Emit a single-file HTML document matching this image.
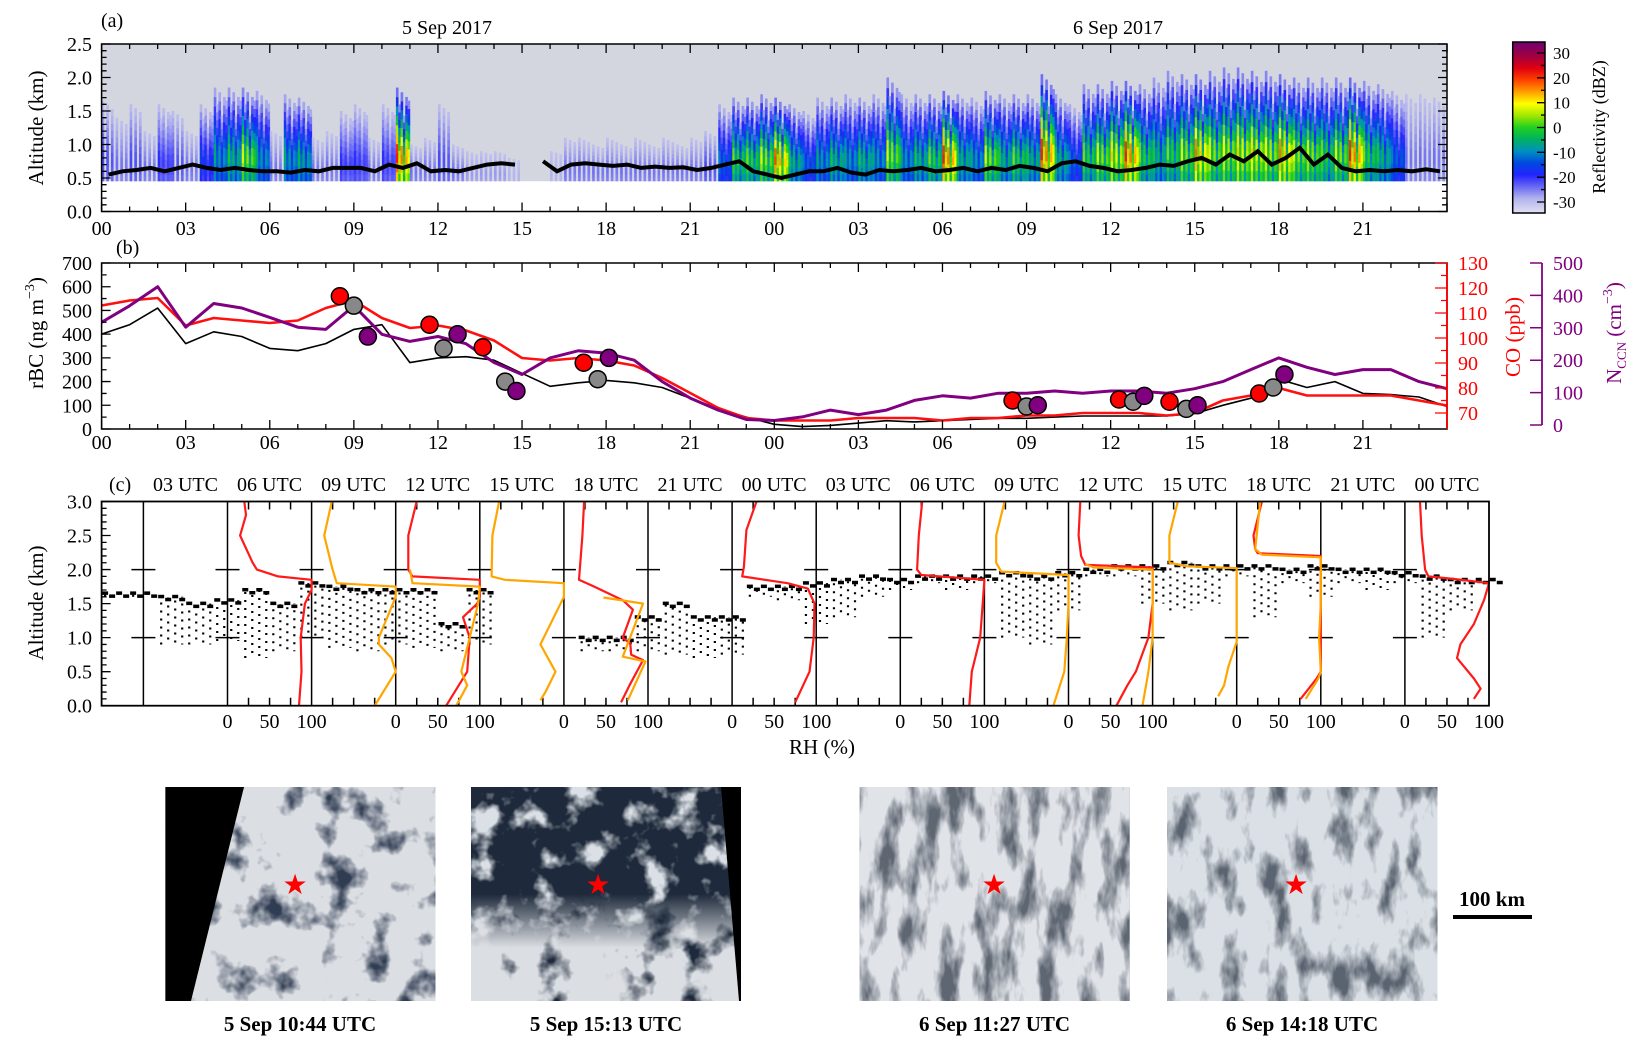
<!DOCTYPE html>
<html><head><meta charset="utf-8">
<style>
body{margin:0;background:#fff;}
svg text{font-family:"Liberation Serif","DejaVu Serif",serif;fill:#000;}
</style></head>
<body>
<svg id="fig" width="1642" height="1052" viewBox="0 0 1642 1052" xmlns="http://www.w3.org/2000/svg">
<defs>
  <filter id="fCloudA" color-interpolation-filters="sRGB" x="0" y="0" width="1" height="1">
    <feTurbulence type="fractalNoise" baseFrequency="0.028" numOctaves="4" seed="3" result="n"/>
    <feColorMatrix in="n" type="matrix" values="0 0 0 0 0.86  0 0 0 0 0.87  0 0 0 0 0.89  4.2 0 0 0 -0.95" result="c"/>
    <feComposite in="c" in2="SourceGraphic" operator="in"/>
  </filter>
  <filter id="fCloudB" color-interpolation-filters="sRGB" x="0" y="0" width="1" height="1">
    <feTurbulence type="fractalNoise" baseFrequency="0.03" numOctaves="4" seed="8" result="n"/>
    <feColorMatrix in="n" type="matrix" values="0 0 0 0 0.86  0 0 0 0 0.88  0 0 0 0 0.9  5 0 0 0 -2.6" result="c"/>
    <feComposite in="c" in2="SourceGraphic" operator="in"/>
  </filter>
  <filter id="fCloudC" color-interpolation-filters="sRGB" x="0" y="0" width="1" height="1">
    <feTurbulence type="fractalNoise" baseFrequency="0.05 0.018" numOctaves="4" seed="5" result="n"/>
    <feColorMatrix in="n" type="matrix" values="0 0 0 0 0.88  0 0 0 0 0.89  0 0 0 0 0.91  3.5 0 0 0 -0.9" result="c"/>
    <feComposite in="c" in2="SourceGraphic" operator="in"/>
  </filter>
  <filter id="fCloudD" color-interpolation-filters="sRGB" x="0" y="0" width="1" height="1">
    <feTurbulence type="fractalNoise" baseFrequency="0.045 0.02" numOctaves="4" seed="11" result="n"/>
    <feColorMatrix in="n" type="matrix" values="0 0 0 0 0.86  0 0 0 0 0.88  0 0 0 0 0.9  3.5 0 0 0 -0.8" result="c"/>
    <feComposite in="c" in2="SourceGraphic" operator="in"/>
  </filter>
  <linearGradient id="gBottom" x1="0" y1="0" x2="0" y2="1">
    <stop offset="0" stop-color="#fff" stop-opacity="0"/>
    <stop offset="0.5" stop-color="#fff" stop-opacity="0"/>
    <stop offset="0.75" stop-color="#fff" stop-opacity="1"/>
  </linearGradient>
  <mask id="mBottom" maskUnits="userSpaceOnUse" x="471" y="787" width="270" height="214">
    <rect x="471" y="787" width="270" height="214" fill="url(#gBottom)"/>
  </mask>
  <linearGradient id="cbarGrad" x1="0" y1="1" x2="0" y2="0"></linearGradient>
</defs>

<g>
  <rect x="165.4" y="787" width="270.1" height="214" fill="#2f3c52"/>
  <rect x="165.4" y="787" width="270.1" height="214" fill="#fff" filter="url(#fCloudA)"/>
  <polygon points="165.4,787 244,787 191,1001 165.4,1001" fill="#000"/>
  <text x="295" y="894" font-size="28" text-anchor="middle" style="fill:#f00">★</text>
</g>
<g>
  <rect x="471" y="787" width="270" height="214" fill="#1e2a3b"/>
  <rect x="471" y="787" width="270" height="214" fill="#fff" filter="url(#fCloudB)"/>
  <g mask="url(#mBottom)">
    <rect x="471" y="787" width="270" height="214" fill="#fff" filter="url(#fCloudA)"/>
  </g>
  <polygon points="721,787 741,787 741,1001 739,1001" fill="#000"/>
  <text x="598" y="894" font-size="28" text-anchor="middle" style="fill:#f00">★</text>
</g>
<g>
  <rect x="859.6" y="787" width="270.1" height="214" fill="#5e6672"/>
  <rect x="859.6" y="787" width="270.1" height="214" fill="#fff" filter="url(#fCloudC)"/>
  <text x="994" y="894" font-size="28" text-anchor="middle" style="fill:#f00">★</text>
</g>
<g>
  <rect x="1167" y="787" width="270.5" height="214" fill="#5a6370"/>
  <rect x="1167" y="787" width="270.5" height="214" fill="#fff" filter="url(#fCloudD)"/>
  <text x="1296" y="894" font-size="28" text-anchor="middle" style="fill:#f00">★</text>
</g>
<text x="300" y="1031" font-size="21" font-weight="bold" text-anchor="middle">5 Sep 10:44 UTC</text>
<text x="606" y="1031" font-size="21" font-weight="bold" text-anchor="middle">5 Sep 15:13 UTC</text>
<text x="994.5" y="1031" font-size="21" font-weight="bold" text-anchor="middle">6 Sep 11:27 UTC</text>
<text x="1302" y="1031" font-size="21" font-weight="bold" text-anchor="middle">6 Sep 14:18 UTC</text>
<text x="1492" y="906" font-size="21" font-weight="bold" text-anchor="middle">100 km</text>
<rect x="1453" y="915" width="79" height="4" fill="#000"/>
</svg>

<script>
const radarTop = [1.65,1.4,1.6,1.2,1.6,1.5,1.2,1.6,1.85,1.85,1.85,1.8,1.2,1.75,1.7,1.1,1.2,1.5,1.6,1.1,1.6,1.85,1.0,1.1,
  1.6,1.0,0.9,0.9,0.9,0.8,0,0,0.9,1.1,1.1,1.0,1.1,1.0,1.1,1.0,1.1,1.0,1.1,1.2,1.6,1.7,1.7,1.75,
  1.7,1.6,1.5,1.7,1.7,1.75,1.7,1.75,2.0,1.75,1.75,1.75,1.8,1.75,1.7,1.8,1.75,1.75,1.75,2.05,1.75,1.6,1.9,1.9,
  1.95,1.95,1.9,2.0,2.1,2.05,2.05,2.1,2.15,2.15,2.1,2.1,2.05,2.0,2.0,2.0,2.0,2.0,1.95,1.9,1.8,1.75,1.75,1.7];
const radarMax = [-22,-25,-22,-25,-20,-22,-25,-15,-5,0,10,-5,-25,-5,-3,-25,-25,-20,-20,-25,-20,25,-25,-25,
  -22,-25,-28,-28,-28,-30,-40,-40,-30,-25,-25,-25,-25,-25,-25,-25,-25,-25,-25,-22,-10,5,5,10,
  22,0,-10,-5,0,-5,0,-5,10,-5,0,5,25,0,-5,10,0,5,0,25,0,-10,5,10,
  15,25,5,0,5,10,20,10,12,15,15,12,20,10,10,5,10,25,5,0,-10,-25,-25,-25];
const cloudBase = [0.55,0.6,0.62,0.65,0.6,0.65,0.7,0.65,0.62,0.65,0.62,0.6,0.6,0.58,0.62,0.6,0.65,0.65,0.65,0.6,0.7,0.65,0.72,0.6,
  0.62,0.6,0.65,0.7,0.72,0.7,0,0.75,0.6,0.7,0.72,0.7,0.68,0.7,0.65,0.67,0.65,0.66,0.62,0.65,0.7,0.75,0.6,0.55,
  0.5,0.55,0.6,0.6,0.65,0.58,0.55,0.62,0.6,0.62,0.65,0.6,0.62,0.65,0.6,0.65,0.62,0.68,0.65,0.6,0.72,0.75,0.68,0.65,
  0.6,0.62,0.65,0.7,0.68,0.75,0.8,0.7,0.85,0.75,0.9,0.7,0.8,0.95,0.7,0.85,0.65,0.6,0.62,0.6,0.62,0.6,0.63,0.6];
const cbarTicks = [-30,-20,-10,0,10,20,30];
const altTicksA = [0.0,0.5,1.0,1.5,2.0,2.5];
const hourLabels = ['00','03','06','09','12','15','18','21','00','03','06','09','12','15','18','21'];

const rbc = [400,440,510,360,410,390,340,330,360,420,440,280,300,305,290,235,180,195,205,195,175,130,85,50,20,10,15,25,35,30,35,40,45,45,50,55,55,55,55,65,100,130,210,175,200,150,145,135,95];
const co = [113,115,116,105,108,107,106,107,112,115,108,104,105,103,99,92,91,92,91,89,84,78,72,68,67,67,67,68,68,68,67,68,68,69,69,70,70,70,69,70,75,77,80,77,77,77,77,75,73];
const nccn = [317,368,427,302,375,361,332,302,295,368,280,258,273,251,193,156,207,229,222,200,134,83,46,17,14,25,46,32,46,76,90,83,98,98,105,98,105,105,98,112,134,171,207,178,156,171,171,134,112];
const coMarkHour = [8.5,11.7,13.6,17.2,32.5,36.3,38.1,41.3];
const coMarkVal = [116.7,105.3,96.3,90.1,75,75.4,74.5,77.8];
const rbcMarkHour = [9.0,12.2,14.4,17.7,33.0,36.8,38.7,41.8];
const rbcMarkVal = [520,340,200,210,95,115,85,175];
const nMarkHour = [9.5,12.7,14.8,18.1,33.4,37.2,39.1,42.2];
const nMarkVal = [273,280,105,207,61,90,61,156];
const rbcTicks = [0,100,200,300,400,500,600,700];
const coTicks = [70,80,90,100,110,120,130];
const nTicks = [0,100,200,300,400,500];

const utcLabels = ['03','06','09','12','15','18','21','00','03','06','09','12','15','18','21','00'];
const cbHi = [1.65,1.65,1.6,1.5,1.55,1.7,1.5,1.8,1.75,1.7,1.7,1.7,1.2,1.7,0,0,0,1.0,1.0,1.3,1.5,1.3,1.3,1.75,1.75,1.8,1.85,1.9,1.85,1.9,1.9,1.9,1.95,1.9,1.95,2.0,2.05,2.05,2.1,2.05,2.05,2.05,2.0,2.05,2.0,2.0,1.95,1.9,1.85,1.85];
const cbLo = [1.6,1.6,0.9,0.9,0.95,0.7,0.8,1.0,0.85,0.8,0.9,0.85,0.8,0.9,0,0,0,0.8,0.8,0.8,0.75,0.7,0.75,1.6,1.55,1.2,1.3,1.6,1.7,1.8,1.7,1.8,1.0,0.9,1.4,1.9,1.9,1.5,1.4,1.5,1.9,1.3,1.8,1.6,1.8,1.7,1.8,1.0,1.4,1.8];
const profLine = [1,2,3,3,4,5,5,7,9,10,11,11,12,13,13,15];
const profColor = ['red','orange','red','orange','orange','red','orange','red','red','orange','red','orange','orange','red','orange','red'];
const profPts = [
 [[0,85],[0.5,88],[1.0,87],[1.5,92],[1.7,100],[1.85,100],[1.9,60],[2.0,35],[2.1,30],[2.5,15],[2.8,22],[3.0,20]],
 [[0,75],[0.5,100],[0.7,95],[0.9,80],[1.0,80],[1.6,100],[1.75,100],[1.8,30],[2.0,25],[2.5,15],[3.0,24]],
 [[0,60],[0.5,85],[1.0,88],[1.3,80],[1.5,97],[1.6,100],[1.85,100],[1.9,20],[2.0,15],[2.5,15],[3.0,25]],
 [[0,72],[0.3,85],[0.5,78],[1.0,88],[1.5,98],[1.75,100],[1.8,20],[2.0,17]],
 [[0.08,72],[0.2,78],[0.5,90],[0.9,72],[1.6,100],[1.8,100],[1.85,30],[1.9,14],[2.5,15],[3.0,23]],
 [[0.05,68],[0.3,78],[0.67,94],[0.75,80],[0.91,79],[1.0,70],[1.41,82],[1.55,70],[1.75,36],[1.85,18],[2.5,22],[3.0,24]],
 [[0.08,76],[0.65,97],[0.72,70],[1.5,94],[1.59,47]],
 [[0.05,75],[0.5,92],[1.0,97],[1.5,98],[1.72,90],[1.8,66],[1.9,12],[2.04,14],[2.58,17],[3.0,29]],
 [[0,82],[0.5,85],[1.0,95],[1.5,98],[1.85,100],[1.92,25],[2.0,20],[2.5,22],[3.0,26]],
 [[0,82],[0.5,95],[1.0,98],[1.5,100],[1.92,100],[1.97,20],[2.1,14],[2.5,14],[3.0,24]],
 [[0,57],[0.3,70],[0.5,80],[1.0,95],[1.5,100],[2.03,100],[2.07,20],[2.2,15],[2.5,12],[3.0,14]],
 [[0,88],[0.5,95],[1.0,100],[1.5,100],[2.0,100],[2.03,30],[2.08,20]],
 [[0.14,78],[0.3,85],[0.57,90],[0.94,100],[2.02,100],[2.05,40],[2.1,20],[2.5,20],[3.0,30]],
 [[0.1,76],[0.4,95],[0.5,100],[1.0,100],[1.5,100],[2.2,100],[2.24,25],[2.3,22],[2.5,20],[3.0,30]],
 [[0.1,82],[0.4,97],[0.5,100],[1.0,98],[1.5,100],[2.18,100],[2.22,30],[2.3,22],[3.0,28]],
 [[0.1,82],[0.25,90],[0.4,82],[0.7,62],[0.9,66],[1.2,82],[1.55,94],[1.8,100],[1.86,60],[1.9,28],[2.0,24],[2.5,20],[3.0,18]]
];
const altTicksC = [0.0,0.5,1.0,1.5,2.0,2.5,3.0];

const NS='http://www.w3.org/2000/svg';
const svg=document.getElementById('fig');
function mk(tag,attrs,parent){const e=document.createElementNS(NS,tag);for(const k in attrs)e.setAttribute(k,attrs[k]);(parent||svg).appendChild(e);return e;}
function tx(s,x,y,size,anchor,parent,extra){const e=mk('text',Object.assign({x:x,y:y,'font-size':size,'text-anchor':anchor},extra||{}),parent);e.textContent=s;return e;}
function grp(name){const g=mk('g',{});return g;}

const CMAP=[[-36,'#e0e0f2'],[-30,'#b4b4ee'],[-25,'#6a6af5'],[-20,'#2424ff'],[-15,'#0048e0'],[-10,'#0090c0'],[-5,'#00b060'],[0,'#20d020'],[5,'#a0e800'],[10,'#ffff00'],[15,'#ffa000'],[20,'#ff4000'],[25,'#e00010'],[30,'#a00040'],[36,'#700070']];
function hex(c){return [parseInt(c.slice(1,3),16),parseInt(c.slice(3,5),16),parseInt(c.slice(5,7),16)];}
function cmap(d){if(d<=CMAP[0][0])return CMAP[0][1];for(let i=1;i<CMAP.length;i++){if(d<=CMAP[i][0]){const a=CMAP[i-1],b=CMAP[i];const t=(d-a[0])/(b[0]-a[0]);const ca=hex(a[1]),cb=hex(b[1]);return 'rgb('+ca.map((v,k)=>Math.round(v+(cb[k]-v)*t)).join(',')+')';}}return CMAP[CMAP.length-1][1];}

// panel (a)
const A={l:101.6,r:1447,t:44,b:211.5};
const xA=h=>A.l+h*(A.r-A.l)/48;
const yA=k=>A.b-k*(A.b-A.t)/2.5;
const gA=grp('panel-a-radar');
const bgA=mk('rect',{x:A.l,y:yA(2.5),width:A.r-A.l,height:yA(0.45)-yA(2.5),fill:'#d3d6df'},gA);


const subH=[1,0.82,0.95,0.7,0.9,0.86], subI=[1,0.7,0.9,0.6,0.85,0.75];
const colW=(xA(0.5)-xA(0))/6;
radarTop.forEach((top,j)=>{
  if(top<=0.45||radarMax[j]<-35)return;
  for(let s=0;s<6;s++){
    if(radarMax[j]<=-22 && (s%2===1))continue;
    const t=0.45+(top-0.45)*subH[s];
    const m=-30+(radarMax[j]+30)*subI[s];
    for(let g=0;g<10;g++){
      const a0=0.45+(t-0.45)*g/10,a1=0.45+(t-0.45)*(g+1)/10;
      const f=(g+0.5)/10;
      const prof=f<0.3?0.75+f*0.833:1-(f-0.3)/0.7*0.95;
      const d=-32+(m+32)*prof;
      const c=mk('rect',{x:(xA(j*0.5)+s*colW).toFixed(2),y:yA(a1).toFixed(2),width:(colW+0.3).toFixed(2),height:(yA(a0)-yA(a1)+0.3).toFixed(2),fill:cmap(d)},gA);
      
      
    }
  }
});
let dBase='';let pen=false;
cloudBase.forEach((v,j)=>{if(v<=0){pen=false;return;}const x=xA(j*0.5+0.25),y=yA(v);dBase+=(pen?'L':'M')+x.toFixed(1)+' '+y.toFixed(1);pen=true;});
const baseLine=mk('path',{d:dBase,fill:'none',stroke:'#000','stroke-width':4},gA);


const whiteA=mk('rect',{x:A.l,y:yA(0.45),width:A.r-A.l,height:A.b-yA(0.45),fill:'#fff'},gA);



function frameTicks(P,nameP){
  let d='';
  for(let h=0;h<=48;h++){const x=xA(h);const L=(h%3===0)?9:5;d+='M'+x+' '+P.b+'v-'+L+'M'+x+' '+P.t+'v'+L;}
  const fr=mk('rect',{x:P.l,y:P.t,width:P.r-P.l,height:P.b-P.t,fill:'none',stroke:'#000','stroke-width':1.5});
  
  
  const tk=mk('path',{d:d,stroke:'#000','stroke-width':1.3,fill:'none'});
  
  
}
frameTicks(A,'panel-a');
let dya='';
for(let k=0;k<=25;k++){const v=k*0.1,y=yA(v);const L=(k%5===0)?9:5;dya+='M'+A.l+' '+y+'h'+L+'M'+A.r+' '+y+'h-'+L;}
const yaT=mk('path',{d:dya,stroke:'#000','stroke-width':1.3});


altTicksA.forEach(v=>{const t=tx(v.toFixed(1),92,yA(v)+7,20,'end');});
hourLabels.forEach((s,i)=>{const t=tx(s,xA(i*3),235,20,'middle');});
const yaTitle=tx('Altitude (km)',0,0,21,'middle',null,{transform:'translate(43,128) rotate(-90)'});


const lblA=tx('(a)',101,27,20,'start');


const d1=tx('5 Sep 2017',447,34,20,'middle');


const d2=tx('6 Sep 2017',1118,34,20,'middle');



const CB={l:1512.7,r:1545,t:42,b:213};
const yCB=d=>127.5-d*(202-53)/60;
const grad=document.getElementById('cbarGrad');
CMAP.forEach(s=>{const st=document.createElementNS(NS,'stop');st.setAttribute('offset',((s[0]+36)/72).toFixed(3));st.setAttribute('stop-color',s[1]);grad.appendChild(st);});
const cbar=mk('rect',{x:CB.l,y:CB.t,width:CB.r-CB.l,height:CB.b-CB.t,fill:'url(#cbarGrad)',stroke:'#000','stroke-width':1.5});


let dcb='';
for(let d=-30;d<=30;d+=5){dcb+='M'+CB.r+' '+yCB(d)+'h-'+(d%10===0?8:4);}
const cbT=mk('path',{d:dcb,stroke:'#000','stroke-width':1.3});


cbarTicks.forEach(d=>{const t=tx(String(d),1553,yCB(d)+6,17,'start');});
const cbTitle=tx('Reflectivity (dBZ)',0,0,18,'middle',null,{transform:'translate(1605,127) rotate(-90)'});



// panel (b)
const B={l:101.6,r:1447,t:263,b:429};
const yB=v=>B.b-v*(B.b-B.t)/700;
const yCO=c=>413-(c-70)*2.5;
const yN=n=>425-n*(425-263)/500;
const gB=grp('panel-b-timeseries');
function series(arr,yf,color,w,name){let d='';arr.forEach((v,i)=>{d+=(i?'L':'M')+xA(i).toFixed(1)+' '+yf(v).toFixed(1);});const p=mk('path',{d:d,fill:'none',stroke:color,'stroke-width':w,'stroke-linejoin':'round'},gB);}
series(rbc,yB,'#000',1.6,'rbc-line');
series(co,yCO,'#ff1010',2.6,'co-line');
series(nccn,yN,'#800080',3,'nccn-line');
function marks(hs,vs,yf,fill,name){hs.forEach((h,i)=>{const c=mk('circle',{cx:xA(h),cy:yf(vs[i]),r:8.5,fill:fill,stroke:'#000','stroke-width':1.5},gB);});}
marks(coMarkHour,coMarkVal,yCO,'#ff0000','co-average-marker');
marks(rbcMarkHour,rbcMarkVal,yB,'#888888','rbc-average-marker');
marks(nMarkHour,nMarkVal,yN,'#800080','nccn-average-marker');
frameTicks(B,'panel-b');
let dyb='';
for(let v=0;v<=700;v+=50){dyb+='M'+B.l+' '+yB(v)+'h'+(v%100===0?9:5);}
const ybT=mk('path',{d:dyb,stroke:'#000','stroke-width':1.3});


const coAx=mk('line',{x1:B.r,y1:B.t,x2:B.r,y2:B.b,stroke:'#ff0000','stroke-width':1.8});


let dco='';
for(let c=70;c<=130;c+=5){dco+='M'+B.r+' '+yCO(c)+'h-'+(c%10===0?12:6);}
const coT=mk('path',{d:dco,stroke:'#ff0000','stroke-width':1.3});


const nAx=mk('line',{x1:1542,y1:yN(500),x2:1542,y2:yN(0),stroke:'#800080','stroke-width':1.8});


let dn='';
nTicks.forEach(n=>{dn+='M1542 '+yN(n)+'h-12';});
const nT=mk('path',{d:dn,stroke:'#800080','stroke-width':1.5});


rbcTicks.forEach(v=>{const t=tx(String(v),92,yB(v)+7,20,'end');});
coTicks.forEach(c=>{const t=tx(String(c),1458,yCO(c)+7,20,'start',null,{style:'fill:#ff0000'});});
nTicks.forEach(n=>{const t=tx(String(n),1553,yN(n)+7,20,'start',null,{style:'fill:#800080'});});
hourLabels.forEach((s,i)=>{const t=tx(s,xA(i*3),449,20,'middle');});
const ybTitle=mk('text',{transform:'translate(43,333) rotate(-90)','font-size':21,'text-anchor':'middle'});
ybTitle.innerHTML='rBC (ng m<tspan dy="-9" font-size="14">−3</tspan><tspan dy="9">)</tspan>';


const coTitle=tx('CO (ppb)',0,0,21,'middle',null,{transform:'translate(1520,337) rotate(-90)',style:'fill:#ff0000'});


const nTitle=mk('text',{transform:'translate(1621,333) rotate(-90)','font-size':21,'text-anchor':'middle',style:'fill:#800080'});
nTitle.innerHTML='N<tspan dy="5" font-size="13">CCN</tspan><tspan dy="-5"> (cm</tspan><tspan dy="-9" font-size="14">−3</tspan><tspan dy="9">)</tspan>';


const lblB=tx('(b)',116,254,20,'start');



// panel (c)
const C={l:101.6,r:1489,t:501.5,b:705.7};
const segW=(C.r-143.4)/16;
const lineX=k=>143.4+k*segW;
const xC=h=>C.l+(h-1.5)*segW/3;
const yC=k=>C.b-k*(C.b-C.t)/3;
const gC=grp('panel-c-profiles');
cbHi.forEach((hi,i)=>{
  if(hi<=0)return;
  for(let s=0;s<4;s++){
    const x=xC(1.5+i+(s+0.5)/4);
    const l=mk('line',{x1:x,y1:yC(cbLo[i]),x2:x,y2:yC(hi),stroke:'#000','stroke-width':2.2,'stroke-dasharray':'2 6','stroke-dashoffset':s*3},gC);
    
    
    const cap=mk('rect',{x:x-3,y:yC(hi)-1+((s%2)?2:-1),width:6,height:3.5,fill:'#000'},gC);
    
    
  }
});
let dL='';
for(let k=0;k<16;k++){const x=lineX(k);dL+='M'+x+' '+C.t+'V'+C.b+'M'+(x-12)+' '+yC(1)+'h24M'+(x-12)+' '+yC(2)+'h24';
  if(k>=1){for(let q=1;q<4;q++){const xx=x+q*segW/4;dL+='M'+xx+' '+C.b+'v-8M'+xx+' '+C.t+'v8';}}}
const sepL=mk('path',{d:dL,stroke:'#000','stroke-width':1.5,fill:'none'},gC);


profPts.forEach((pts,p)=>{
  const x0=lineX(profLine[p]);let d='';
  pts.forEach((pt,i)=>{d+=(i?'L':'M')+(x0+pt[1]/100*segW).toFixed(1)+' '+yC(pt[0]).toFixed(1);});
  const pl=mk('path',{d:d,fill:'none',stroke:profColor[p]==='red'?'#ff1a1a':'#ffa500','stroke-width':2.2,'stroke-linejoin':'round'},gC);
  
  
});
const frC=mk('rect',{x:C.l,y:C.t,width:C.r-C.l,height:C.b-C.t,fill:'none',stroke:'#000','stroke-width':1.8});


let dyc='';
for(let k=0;k<=30;k++){const y=yC(k*0.1);dyc+='M'+C.l+' '+y+'h'+(k%5===0?9:5);}
const ycT=mk('path',{d:dyc,stroke:'#000','stroke-width':1.3});


altTicksC.forEach(v=>{const t=tx(v.toFixed(1),92,yC(v)+7,20,'end');});
utcLabels.forEach((s,k)=>{const t=tx(s+' UTC',lineX(k)+segW/2,491,20,'middle');});
for(let k=1;k<16;k+=2){['0','50','100'].forEach((s,q)=>{const t=tx(s,lineX(k)+q*segW/2,728,20,'middle');});}
const rhT=tx('RH (%)',822,754,21,'middle');


const ycTitle=tx('Altitude (km)',0,0,21,'middle',null,{transform:'translate(43,603) rotate(-90)'});


const lblC=tx('(c)',109,491,20,'start');


</script>
</body></html>
